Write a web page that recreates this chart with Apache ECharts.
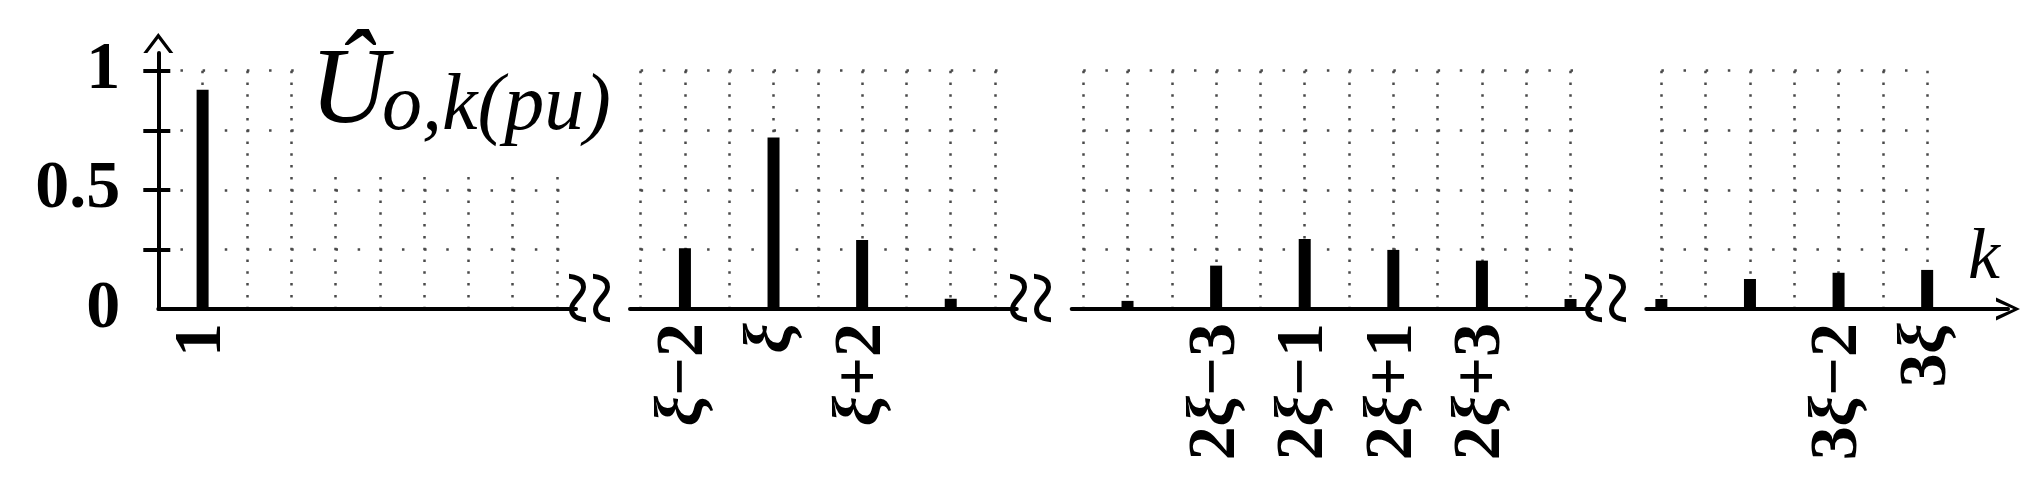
<!DOCTYPE html>
<html>
<head>
<meta charset="utf-8">
<script src="https://cdn.jsdelivr.net/npm/echarts@6/dist/echarts.min.js"></script>
<style>
html, body { margin: 0; padding: 0; background: #fff; }
#chart { width: 2033px; height: 479px; }
</style>
</head>
<body>
<div id="chart"></div>
<script>
// ---- data ----
var yTicks = [0.25, 0.5, 0.75, 1];
var yLabels = [0, 0.5, 1];

// segment 1: k = 1 ... 9
var seg1Grid = [1, 2, 3, 4, 5, 6, 7, 8, 9];
var seg1Pos = [1];
var seg1Val = [0.92];
var seg1Ticks = [1];
var seg1Labels = ['1'];

// segment 2: around ξ (offset from ξ)
var seg2Grid = [-3, -2, -1, 0, 1, 2, 3, 4, 5];
var seg2Pos = [-2, 0, 2, 4];
var seg2Val = [0.255, 0.72, 0.29, 0.043];
var seg2Ticks = [-2, 0, 2];
var seg2Labels = ['ξ−2', 'ξ', 'ξ+2'];

// segment 3: around 2ξ
var seg3Grid = [-6, -5, -4, -3, -2, -1, 0, 1, 2, 3, 4, 5];
var seg3Pos = [-5, -3, -1, 1, 3, 5];
var seg3Val = [0.034, 0.182, 0.294, 0.248, 0.203, 0.042];
var seg3Ticks = [-3, -1, 1, 3];
var seg3Labels = ['2ξ−3', '2ξ−1', '2ξ+1', '2ξ+3'];

// segment 4: around 3ξ
var seg4Grid = [-6, -5, -4, -3, -2, -1, 0];
var seg4Pos = [-6, -4, -2, 0];
var seg4Val = [0.042, 0.126, 0.152, 0.164];
var seg4Ticks = [-2, 0];
var seg4Labels = ['3ξ−2', '3ξ'];

// ---- layout / style ----
var FONT = 'Liberation Serif';
var BLACK = '#000';
var DOT = '#4a4a4a';
var slot = 44.3;                 // px between neighbouring k
var plotTop = 70.7, plotH = 238.3;
var arrowUp = 'path://M0,20 L15,0 L30,20 L26,20 L15,5.5 L4,20 Z';
var arrowX = 'path://M0,24 L11.5,0 L23,24 L19,24 L11.5,6.5 L4,24 Z';

var segments = [
  { grid: seg1Grid, pos: seg1Pos, val: seg1Val, ticks: seg1Ticks, labels: seg1Labels, left: 158.3, min: 0, max: 9.43 },
  { grid: seg2Grid, pos: seg2Pos, val: seg2Val, ticks: seg2Ticks, labels: seg2Labels, left: 630, min: -3.24, max: 5.49 },
  { grid: seg3Grid, pos: seg3Pos, val: seg3Val, ticks: seg3Ticks, labels: seg3Labels, left: 1071.7, min: -6.26, max: 5.48 },
  { grid: seg4Grid, pos: seg4Pos, val: seg4Val, ticks: seg4Ticks, labels: seg4Labels, left: 1646.3, min: -6.34, max: 0 }
];

function richLabel(s) {
  return s ? s.replace(/ξ/g, '{x|ξ}') : '';
}

var grids = [], xAxes = [], yAxes = [], series = [];

// grid 0: only the y axis with its arrow, outer ticks and labels
grids.push({ left: 158.3, top: 53, width: 10, height: 256, outerBoundsMode: 'none' });
xAxes.push({ gridIndex: 0, type: 'value', show: false, min: 0, max: 1 });
yAxes.push({
  gridIndex: 0,
  type: 'value',
  min: 0,
  max: 256 / plotH,
  interval: 0.25,
  axisLine: {
    show: true,
    lineStyle: { color: BLACK, width: 4 },
    symbol: ['none', arrowUp],
    symbolSize: [30, 20],
    symbolOffset: [0, 10]
  },
  axisTick: { show: true, length: 15, customValues: yTicks, lineStyle: { color: BLACK, width: 4 } },
  axisLabel: {
    show: true,
    margin: 38,
    customValues: yLabels,
    formatter: function (v) { return yLabels.indexOf(v) >= 0 ? String(v) : ''; },
    fontFamily: FONT,
    fontWeight: 'bold',
    fontSize: 68,
    color: BLACK
  },
  splitLine: { show: false }
});

segments.forEach(function (seg, i) {
  var g = i + 1;
  var width = (seg.max - seg.min) * slot;
  var half = slot / 2;
  var s0 = (seg.grid[0] - seg.min) * slot;
  grids.push({ left: seg.left, top: plotTop, width: width, height: plotH, outerBoundsMode: 'none' });
  xAxes.push({
    gridIndex: g,
    type: 'value',
    min: seg.min,
    max: seg.max,
    axisLine: { show: true, onZero: false, lineStyle: { color: BLACK, width: 4 } },
    axisTick: { show: false, customValues: seg.grid },
    axisLabel: {
      show: true,
      customValues: seg.ticks,
      formatter: function (v) { return richLabel(seg.labels[seg.ticks.indexOf(v)]); },
      rotate: 90,
      margin: 14,
      fontFamily: FONT,
      fontWeight: 'bold',
      fontSize: 68,
      color: BLACK,
      rich: {
        x: { fontFamily: FONT, fontStyle: 'italic', fontWeight: 'bold', fontSize: 68, color: BLACK }
      }
    },
    splitLine: { show: true, lineStyle: { color: DOT, width: 2.5, type: [2.5, 9.3] } },
    // break mark "≀≀" after each of the first three segments
    name: i < 3 ? '~\n~' : '',
    nameLocation: 'end',
    nameRotate: 90,
    nameGap: -4,
    nameMoveOverlap: false,
    nameTextStyle: {
      fontFamily: FONT,
      fontSize: 100,
      lineHeight: 24,
      color: BLACK,
      padding: [0, 0, 0, 22]
    }
  });
  yAxes.push({
    gridIndex: g,
    type: 'value',
    min: 0,
    max: 1,
    interval: 0.25,
    axisLine: { show: false },
    axisLabel: { show: false },
    axisTick: {
      show: i === 0,
      inside: true,
      length: 12,
      customValues: yTicks,
      lineStyle: { color: BLACK, width: 4 }
    },
    splitLine: {
      show: true,
      lineStyle: { color: DOT, width: 2.5, type: [2.5, half - 2.5], dashOffset: (half - (s0 % half)) % half }
    }
  });
  series.push({
    type: 'bar',
    xAxisIndex: g,
    yAxisIndex: g,
    barWidth: 12,
    itemStyle: { color: BLACK },
    data: seg.pos.map(function (p, j) { return [p, seg.val[j]]; })
  });
});

// grid 5: the arrow end of the k axis
grids.push({ left: 1927, top: plotTop, width: 81, height: plotH, outerBoundsMode: 'none' });
xAxes.push({
  gridIndex: 5,
  type: 'value',
  min: 0,
  max: 1,
  axisLine: {
    show: true,
    onZero: false,
    lineStyle: { color: BLACK, width: 4 },
    symbol: ['none', arrowX],
    symbolSize: [23, 24]
  },
  axisTick: { show: false },
  axisLabel: { show: false },
  splitLine: { show: false },
  name: 'k',
  nameLocation: 'end',
  nameGap: -40,
  nameMoveOverlap: false,
  nameTextStyle: {
    fontFamily: FONT,
    fontStyle: 'italic',
    fontSize: 72,
    lineHeight: 72,
    color: BLACK,
    verticalAlign: 'bottom',
    padding: [0, 0, 14, 0]
  }
});
yAxes.push({ gridIndex: 5, type: 'value', show: false, min: 0, max: 1 });

var chart = echarts.init(document.getElementById('chart'));
chart.setOption({
  animation: false,
  backgroundColor: '#fff',
  title: {
    text: '{u|Û}{s|o,k(pu)}',
    left: 304,
    top: 36,
    backgroundColor: '#fff',
    padding: [4, 10, 22, 6],
    textStyle: {
      fontWeight: 'normal',
      rich: {
        u: { fontFamily: FONT, fontStyle: 'italic', fontWeight: 'normal', fontSize: 108, lineHeight: 108, color: BLACK, width: 72 },
        s: { fontFamily: FONT, fontStyle: 'italic', fontWeight: 'normal', fontSize: 80, lineHeight: 49, verticalAlign: 'bottom', color: BLACK }
      }
    }
  },
  grid: grids,
  xAxis: xAxes,
  yAxis: yAxes,
  series: series
});
</script>
</body>
</html>
